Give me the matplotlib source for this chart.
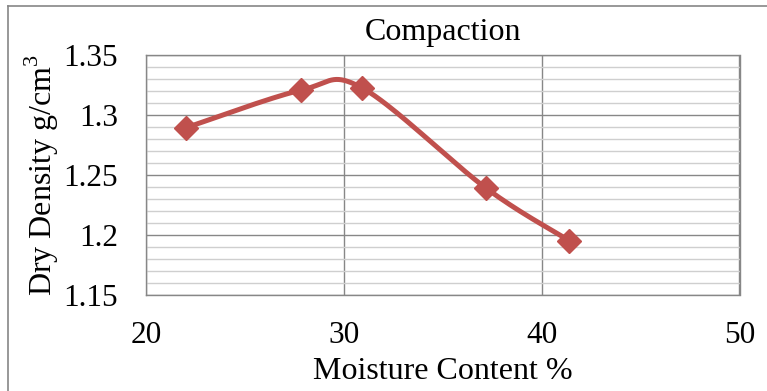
import numpy as np
import matplotlib
matplotlib.use("Agg")
import matplotlib.pyplot as plt
from matplotlib.lines import Line2D

moisture = [22.0, 27.85, 30.9, 37.2, 41.4]
density = [1.2893, 1.3208, 1.3228, 1.2389, 1.1953]
x_ticks = [20, 30, 40, 50]
y_ticks = [1.15, 1.2, 1.25, 1.3, 1.35]
y_tick_labels = ["1.15", "1.2", "1.25", "1.3", "1.35"]

plt.rcParams['font.family'] = ['Liberation Serif', 'DejaVu Serif']
plt.rcParams['mathtext.fontset'] = 'custom'
plt.rcParams['mathtext.rm'] = 'Liberation Serif'

fig = plt.figure(figsize=(7.67, 3.91), dpi=100)
ax = fig.add_axes([146.0/767, 1-295/391, (739.5-146.0)/767, (295-55)/391])


def excel_smooth(xs, ys, n=40):
    # Excel-style smoothing: cubic Bezier with control points at 1/6 of neighbour difference
    pts = np.column_stack([xs, ys])
    out = []
    for i in range(len(pts) - 1):
        p0 = pts[i - 1] if i > 0 else pts[i]
        p1 = pts[i]
        p2 = pts[i + 1]
        p3 = pts[i + 2] if i + 2 < len(pts) else pts[i + 1]
        c1 = p1 + (p2 - p0) / 6.0
        c2 = p2 - (p3 - p1) / 6.0
        t = np.linspace(0, 1, n)[:, None]
        seg = ((1 - t) ** 3) * p1 + 3 * ((1 - t) ** 2) * t * c1 + 3 * (1 - t) * t ** 2 * c2 + t ** 3 * p2
        out.append(seg if i == 0 else seg[1:])
    s = np.vstack(out)
    return s[:, 0], s[:, 1]

sx, sy = excel_smooth(moisture, density)
color = '#C0504D'
ax.plot(sx, sy, color=color, lw=3.6, solid_capstyle='round', zorder=3)
ax.plot(moisture, density, linestyle='none', marker='D', markersize=12, color=color, zorder=4)

ax.set_xlim(20, 50)
ax.set_ylim(1.15, 1.35)
ax.set_xticks(x_ticks)
ax.set_yticks(y_ticks)
ax.set_yticklabels(y_tick_labels)
ax.set_yticks(np.arange(1.15, 1.3501, 0.01), minor=True)
ax.grid(True, which='major', axis='both', color='#878787', lw=1.0)
ax.grid(True, which='minor', axis='y', color='#CFCFCF', lw=1.0)
ax.set_axisbelow(True)
for sp in ax.spines.values():
    sp.set_color('#878787')
    sp.set_linewidth(1.0)
ax.tick_params(which='both', length=0, labelsize=22.5)
ax.tick_params(axis='y', pad=20)
ax.tick_params(axis='x', pad=18.5)

ax.set_title('Compaction', fontsize=23, pad=11)
ax.set_xlabel('Moisture Content %', fontsize=23, labelpad=5)
ax.set_ylabel('Dry Density g/cm$^3$', fontsize=23, labelpad=2)

# outer chart border (partly cropped)
fig.add_artist(Line2D([8/767, 8/767], [0, 1-6/391], color='#868686', lw=1.2, transform=fig.transFigure))
fig.add_artist(Line2D([8/767, 1], [1-6/391, 1-6/391], color='#868686', lw=1.2, transform=fig.transFigure))

fig.savefig('out.png', dpi=100)
